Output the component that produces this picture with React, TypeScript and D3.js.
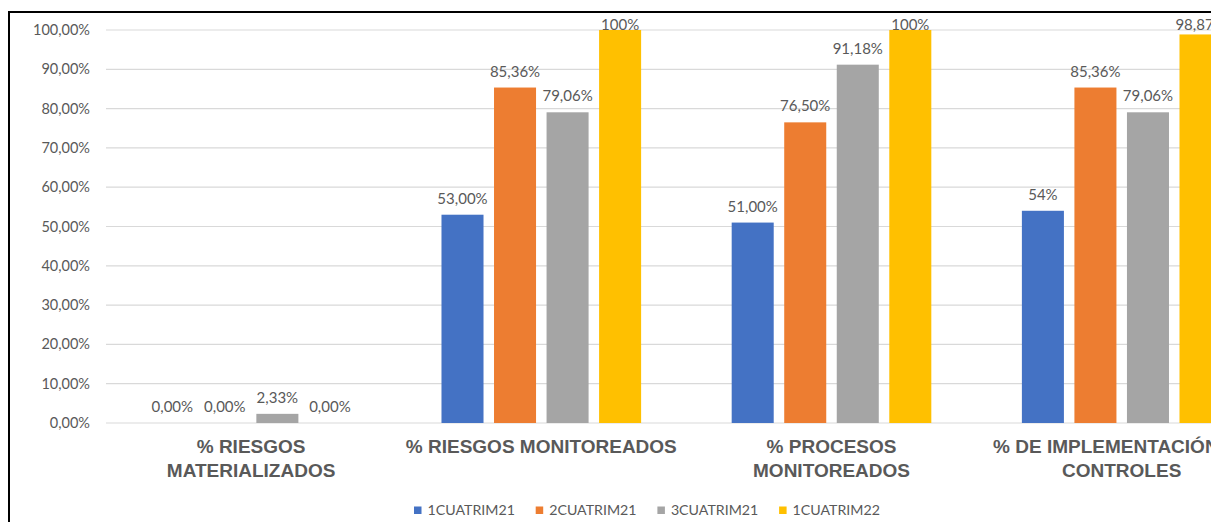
import React from "react";
import * as d3 from "d3";

// Indicator groups (each entry is the wrapped label lines)
const categories: string[][] = [
  ["% RIESGOS", "MATERIALIZADOS"],
  ["% RIESGOS MONITOREADOS"],
  ["% PROCESOS", "MONITOREADOS"],
  ["% DE IMPLEMENTACIÓN DE", "CONTROLES"],
];

const seriesNames = ["1CUATRIM21", "2CUATRIM21", "3CUATRIM21", "1CUATRIM22"];
const seriesColors = ["#4472C4", "#ED7D31", "#A5A5A5", "#FFC000"];

// Values per series, one per category (percent)
const cuatrim1_21 = [0, 53, 51, 54];
const cuatrim2_21 = [0, 85.36, 76.5, 85.36];
const cuatrim3_21 = [2.33, 79.06, 91.18, 79.06];
const cuatrim1_22 = [0, 100, 100, 98.87];

// Data labels as printed on each bar
const labels1_21 = ["0,00%", "53,00%", "51,00%", "54%"];
const labels2_21 = ["0,00%", "85,36%", "76,50%", "85,36%"];
const labels3_21 = ["2,33%", "79,06%", "91,18%", "79,06%"];
const labels1_22 = ["0,00%", "100%", "100%", "98,87%"];

const yTicks = [0, 10, 20, 30, 40, 50, 60, 70, 80, 90, 100];

const W = 1211;
const H = 522;
const TEXT = "#595959";
const FONT = "Lato, 'Open Sans', sans-serif";

export default function App() {
  const seriesValues = [cuatrim1_21, cuatrim2_21, cuatrim3_21, cuatrim1_22];
  const seriesLabels = [labels1_21, labels2_21, labels3_21, labels1_22];

  const catKeys = categories.map((_, i) => String(i));
  const x0 = d3.scaleBand<string>().domain(catKeys).range([106, 1266.8]).padding(0);
  const x1 = d3
    .scaleBand<string>()
    .domain(seriesNames)
    .range([0, x0.bandwidth()])
    .paddingInner(0.2)
    .paddingOuter(0.862);
  const y = d3.scaleLinear().domain([0, 100]).range([423, 30]);

  const fmtTick = (v: number) => v.toFixed(2).replace(".", ",") + "%";

  return (
    <svg
      width={W}
      height={H}
      style={{ position: "absolute", left: 0, top: 0, background: "#fff" }}
    >
      <rect x={0} y={0} width={W} height={H} fill="#fff" />
      {/* gridlines and y tick labels */}
      {yTicks.map((t) => (
        <g key={t}>
          <line x1={106} x2={W + 10} y1={y(t)} y2={y(t)} stroke="#D9D9D9" strokeWidth={1.2} />
          <text
            x={90}
            y={y(t)}
            dy="0.35em"
            textAnchor="end"
            fontFamily={FONT}
            fontSize={14.5}
            fill={TEXT}
          >
            {fmtTick(t)}
          </text>
        </g>
      ))}

      {/* bars */}
      {catKeys.map((ck, ci) => (
        <g key={ck} transform={`translate(${x0(ck)},0)`}>
          {seriesNames.map((s, si) => {
            const v = seriesValues[si][ci];
            const bx = x1(s)!;
            return (
              <rect
                key={s}
                x={bx}
                y={y(v)}
                width={x1.bandwidth()}
                height={y(0) - y(v)}
                fill={seriesColors[si]}
              />
            );
          })}
          {seriesNames.map((s, si) => {
            const v = seriesValues[si][ci];
            const cx = x1(s)! + x1.bandwidth() / 2;
            return (
              <text
                key={s + "-l"}
                x={cx}
                y={Math.max(y(v) - 11, 30)}
                textAnchor="middle"
                fontFamily={FONT}
                fontSize={15}
                fill={TEXT}
              >
                {seriesLabels[si][ci]}
              </text>
            );
          })}
        </g>
      ))}

      {/* category labels */}
      {categories.map((lines, ci) => (
        <text
          key={ci}
          x={x0(String(ci))! + x0.bandwidth() / 2}
          textAnchor="middle"
          fontFamily="'Liberation Sans', Arial, sans-serif"
          fontWeight="bold"
          fontSize={19}
          fill={TEXT}
        >
          {lines.map((ln, li) => (
            <tspan key={li} x={x0(String(ci))! + x0.bandwidth() / 2} y={452.5 + li * 24}>
              {ln}
            </tspan>
          ))}
        </text>
      ))}

      {/* legend */}
      {seriesNames.map((s, si) => {
        const lx = 414 + si * 121.7;
        return (
          <g key={s}>
            <rect x={lx} y={506.5} width={7.5} height={7.5} fill={seriesColors[si]} />
            <text
              x={lx + 13.5}
              y={510}
              dy="0.35em"
              fontFamily={FONT}
              fontSize={14.2}
              fill={TEXT}
            >
              {s}
            </text>
          </g>
        );
      })}

      {/* outer frame */}
      <rect x={9} y={12} width={W + 20} height={H + 20} fill="none" stroke="#000" strokeWidth={2} />
    </svg>
  );
}
